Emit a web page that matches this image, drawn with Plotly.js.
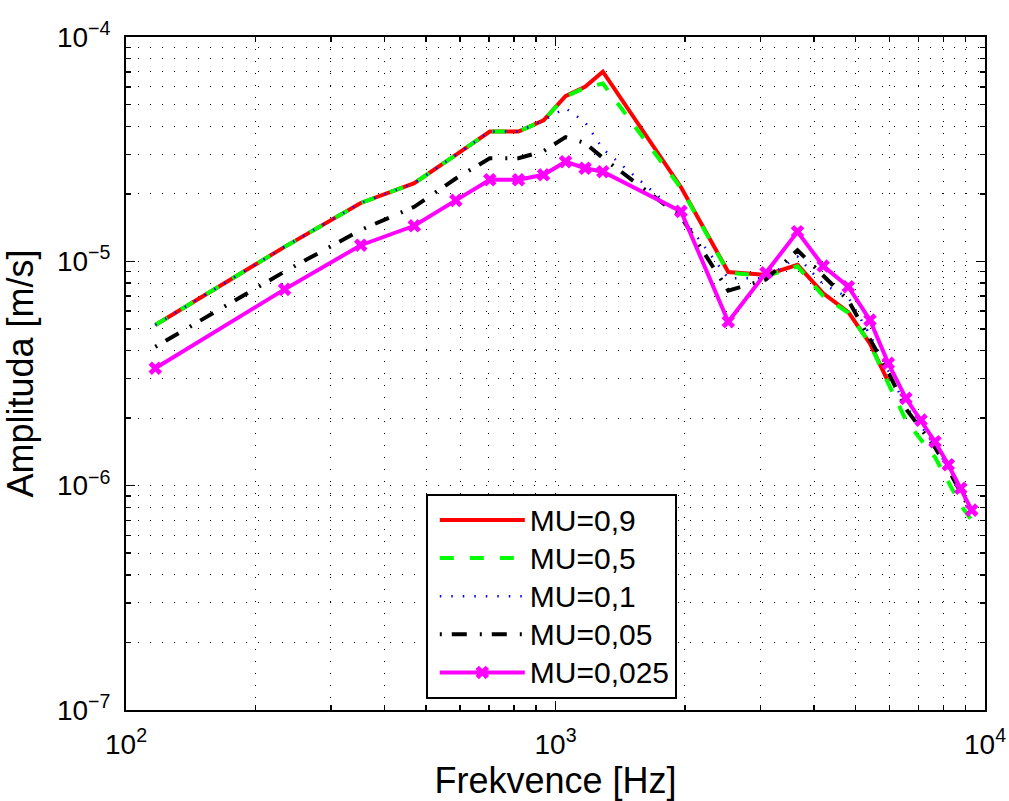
<!DOCTYPE html>
<html>
<head>
<meta charset="utf-8">
<script src="https://cdn.plot.ly/plotly-3.0.1.min.js"></script>
<style>html,body{margin:0;padding:0;background:#fff;}#chart{width:1009px;height:801px;}</style>
</head>
<body>
<div id="chart"></div>
<script>
// Frequencies [Hz]
const freq = [117, 234, 352, 469, 586, 703, 820, 938, 1055, 1172, 1289, 1960, 2525, 3090, 3660, 4200, 4806, 5398, 5955, 6546, 7096, 7648, 8214, 8779, 9312];
// Amplitudes [m/s]
const mu09 = [5.2e-6, 1.16e-5, 1.82e-5, 2.23e-5, 2.98e-5, 3.79e-5, 3.79e-5, 4.25e-5, 5.45e-5, 6.0e-5, 7.0e-5, 2.14e-5, 8.96e-6, 8.7e-6, 9.64e-6, 7.2e-6, 5.94e-6, 4.3e-6, 2.9e-6, null, null, null, null, null, null];
const mu05 = [5.2e-6, 1.16e-5, 1.82e-5, 2.23e-5, 2.98e-5, 3.79e-5, 3.79e-5, 4.25e-5, 5.42e-5, 5.95e-5, 6.2e-5, 2.12e-5, 8.9e-6, 8.6e-6, 9.5e-6, 7.0e-6, 5.9e-6, 4.3e-6, 2.85e-6, 1.96e-6, 1.6e-6, 1.34e-6, 1.04e-6, 8.2e-7, 7.0e-7];
const mu01 = [5.2e-6, 1.16e-5, 1.82e-5, 2.23e-5, 2.98e-5, 3.79e-5, 3.79e-5, 4.25e-5, 4.82e-5, 4.17e-5, 3.17e-5, 1.6e-5, 8.4e-6, 8.4e-6, 1.05e-5, 7.9e-6, 6.9e-6, 4.7e-6, 3.25e-6, 2.25e-6, 1.85e-6, 1.5e-6, 1.2e-6, 9.5e-7, 7.6e-7];
const mu005 = [4.16e-6, 9.0e-6, 1.38e-5, 1.75e-5, 2.34e-5, 2.88e-5, 2.88e-5, 3.1e-5, 3.58e-5, 3.37e-5, 2.89e-5, 1.58e-5, 7.4e-6, 8.3e-6, 1.12e-5, 8.6e-6, 6.7e-6, 4.5e-6, 3.2e-6, 2.2e-6, 1.8e-6, 1.48e-6, 1.18e-6, 9.4e-7, 7.6e-7];
const mu0025 = [3.34e-6, 7.5e-6, 1.18e-5, 1.44e-5, 1.87e-5, 2.31e-5, 2.31e-5, 2.43e-5, 2.78e-5, 2.6e-5, 2.51e-5, 1.67e-5, 5.38e-6, 8.89e-6, 1.355e-5, 9.53e-6, 7.71e-6, 5.47e-6, 3.51e-6, 2.45e-6, 1.96e-6, 1.57e-6, 1.24e-6, 9.73e-7, 7.78e-7];
const seriesNames = ['MU=0,9', 'MU=0,5', 'MU=0,1', 'MU=0,05', 'MU=0,025'];
// Tick labels
const xTickVals = [100, 1000, 10000];
const xTickText = ['10<sup>2</sup>', '10<sup>3</sup>', '10<sup>4</sup>'];
const yTickVals = [1e-7, 1e-6, 1e-5, 1e-4];
const yTickText = ['10<sup>\u22127</sup>', '10<sup>\u22126</sup>', '10<sup>\u22125</sup>', '10<sup>\u22124</sup>'];

function minorVals(lo, hi) {
  const v = [];
  for (let e = lo; e < hi; e++) for (let m = 2; m <= 9; m++) v.push(m * Math.pow(10, e));
  return v;
}
// legend text drawn at 30px while entries keep a tighter row pitch
const legName = n => '<span style="font-size:30px">' + n + '</span>';

const W = 4;
const traces = [
  {x: freq, y: mu09, name: legName(seriesNames[0]), mode: 'lines', line: {color: '#ff0000', width: W}},
  {x: freq, y: mu05, name: legName(seriesNames[1]), mode: 'lines', line: {color: '#00ff00', width: W, dash: '14px,16px'}},
  {x: freq, y: mu01, name: legName(seriesNames[2]), mode: 'lines', line: {color: '#0000ff', width: 2.5, dash: '1.5px,10px'}},
  {x: freq, y: mu005, name: legName(seriesNames[3]), mode: 'lines', line: {color: '#000000', width: W, dash: '2px,10px,15px,13px'}},
  {x: freq, y: mu0025, name: legName(seriesNames[4]), mode: 'lines+markers', line: {color: '#ff00ff', width: W},
   marker: {symbol: 'x', size: 12, color: '#ff00ff'}}
];

const font = 'Liberation Sans, Arial, Helvetica, sans-serif';
const gridDash = '1px,11px';
const axisCommon = {
  type: 'log',
  showline: true, linecolor: '#000', linewidth: 2, mirror: 'ticks',
  ticks: 'inside', ticklen: 9, tickwidth: 1.5, tickcolor: '#000',
  showgrid: true, gridcolor: '#000', gridwidth: 1, griddash: gridDash,
  zeroline: false,
  tickfont: {family: font, size: 28, color: '#000'},
  tickmode: 'array',
  ticklabeloverflow: 'allow'
};

const layout = {
  width: 1009, height: 801,
  margin: {l: 126, r: 24, t: 37, b: 91},
  paper_bgcolor: '#fff', plot_bgcolor: '#fff',
  showlegend: true,
  xaxis: Object.assign({}, axisCommon, {
    range: [2, 4], tickvals: xTickVals, ticktext: xTickText, ticklabelstandoff: 8,
    minor: {tickmode: 'array', tickvals: minorVals(2, 4), ticks: 'inside', ticklen: 5, tickcolor: '#000', showgrid: true, gridcolor: '#000', gridwidth: 1, griddash: gridDash},
    title: {text: 'Frekvence [Hz]', font: {family: font, size: 36, color: '#000'}, standoff: 4}
  }),
  yaxis: Object.assign({}, axisCommon, {
    range: [-7, -4], tickvals: yTickVals, ticktext: yTickText, ticklabelstandoff: 8,
    minor: {tickmode: 'array', tickvals: minorVals(-7, -4), ticks: 'inside', ticklen: 5, tickcolor: '#000', showgrid: true, gridcolor: '#000', gridwidth: 1, griddash: gridDash},
    title: {text: 'Amplituda [m/s]', font: {family: font, size: 36, color: '#000'}, standoff: 12}
  }),
  legend: {
    x: 0.349, y: 0.321, xanchor: 'left', yanchor: 'top',
    bgcolor: '#fff', bordercolor: '#000', borderwidth: 2,
    font: {family: font, size: 27, color: '#000'},
    itemwidth: 85, indentation: 7
  }
};

Plotly.newPlot('chart', traces, layout, {displayModeBar: false, staticPlot: true});
</script>
</body>
</html>
